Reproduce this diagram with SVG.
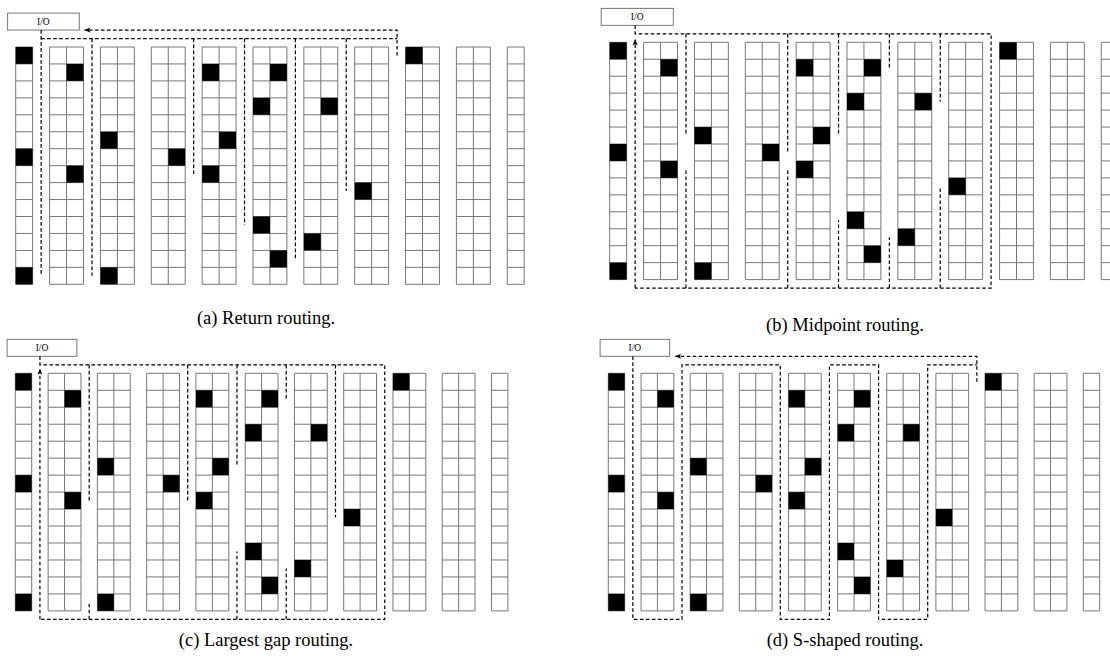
<svg xmlns="http://www.w3.org/2000/svg" xmlns:xlink="http://www.w3.org/1999/xlink" width="1110" height="664" viewBox="0 0 1110 664">
<style>
.gl{fill:none;stroke:#777;stroke-width:1;vector-effect:non-scaling-stroke}
.pk{fill:#000}
.rt{fill:none;stroke:#000;stroke-width:1.2;stroke-dasharray:3.6 2.4}
.io{fill:#fff;stroke:#777;stroke-width:1}
.iot{font-family:"Liberation Serif",serif;font-size:9.5px;fill:#000;text-anchor:middle}
.cap{font-family:"Liberation Serif",serif;font-size:18.5px;fill:#000;text-anchor:middle}
</style>
<defs>
<marker id="arr" markerUnits="userSpaceOnUse" markerWidth="7" markerHeight="6" refX="6" refY="3" orient="auto" viewBox="0 0 7 6"><path d="M0 0.4L6 3L0 5.6L1.6 3Z" fill="#000"/></marker>
<g id="rackS"><rect class="gl" x="0" y="0" width="1" height="14"/><path class="gl" d="M0 1H1M0 2H1M0 3H1M0 4H1M0 5H1M0 6H1M0 7H1M0 8H1M0 9H1M0 10H1M0 11H1M0 12H1M0 13H1"/></g>
<g id="rackD"><rect class="gl" x="0" y="0" width="2" height="14"/><path class="gl" d="M1 0V14M0 1H2M0 2H2M0 3H2M0 4H2M0 5H2M0 6H2M0 7H2M0 8H2M0 9H2M0 10H2M0 11H2M0 12H2M0 13H2"/></g>
<g id="grid">
<use xlink:href="#rackS" x="0"/>
<use xlink:href="#rackD" x="2"/>
<use xlink:href="#rackD" x="5"/>
<use xlink:href="#rackD" x="8"/>
<use xlink:href="#rackD" x="11"/>
<use xlink:href="#rackD" x="14"/>
<use xlink:href="#rackD" x="17"/>
<use xlink:href="#rackD" x="20"/>
<use xlink:href="#rackD" x="23"/>
<use xlink:href="#rackD" x="26"/>
<use xlink:href="#rackS" x="29"/>
</g>
<g id="picks" class="pk">
<rect x="0" y="0" width="1" height="1"/><rect x="0" y="6" width="1" height="1"/><rect x="0" y="13" width="1" height="1"/>
<rect x="3" y="1" width="1" height="1"/><rect x="3" y="7" width="1" height="1"/>
<rect x="5" y="5" width="1" height="1"/><rect x="5" y="13" width="1" height="1"/>
<rect x="9" y="6" width="1" height="1"/>
<rect x="11" y="1" width="1" height="1"/><rect x="11" y="7" width="1" height="1"/>
<rect x="12" y="5" width="1" height="1"/>
<rect x="14" y="3" width="1" height="1"/><rect x="14" y="10" width="1" height="1"/>
<rect x="15" y="1" width="1" height="1"/><rect x="15" y="12" width="1" height="1"/>
<rect x="17" y="11" width="1" height="1"/>
<rect x="18" y="3" width="1" height="1"/>
<rect x="20" y="8" width="1" height="1"/>
<rect x="23" y="0" width="1" height="1"/>
</g>
</defs>
<rect width="1110" height="664" fill="#fff"/>

<!-- (a) Return routing -->
<g id="panel-a">
<g id="a-warehouse" transform="translate(15.7 47) scale(16.95 16.95)"><use xlink:href="#grid"/><use xlink:href="#picks"/></g>
<g id="a-io"><rect class="io" x="7.6" y="13.1" width="71.7" height="16.95"/><text class="iot" x="43.4" y="24.9">I/O</text></g>
<g id="a-route" class="rt">
<path d="M41.13 30.05V275.8"/>
<path d="M41.13 38.53H397.08"/>
<path d="M91.98 38.53V275.8"/>
<path d="M193.68 38.53V174.1"/>
<path d="M244.53 38.53V225"/>
<path d="M295.38 38.53V258.9"/>
<path d="M346.23 38.53V191.1"/>
<path d="M397.08 55.48V30.05H84.5" marker-end="url(#arr)"/>
</g>
<text class="cap" x="266" y="324">(a) Return routing.</text>
</g>

<!-- (b) Midpoint routing -->
<g id="panel-b">
<g id="b-warehouse" transform="translate(609.7 42.3) scale(16.95 16.95)"><use xlink:href="#grid"/><use xlink:href="#picks"/></g>
<g id="b-io"><rect class="io" x="601.2" y="8.4" width="72.1" height="16.95"/><text class="iot" x="637.2" y="20.2">I/O</text></g>
<g id="b-route" class="rt">
<path d="M635.13 25.35V33.83H991.08V288.08H635.13"/>
<path d="M635.13 288.08V39.5" marker-end="url(#arr)"/>
<path d="M685.98 33.83V135.5"/>
<path d="M787.68 33.83V152.5"/>
<path d="M838.53 33.83V135.5"/>
<path d="M889.38 33.83V67.7"/>
<path d="M940.23 33.83V101.6"/>
<path d="M685.98 288.08V169.4"/>
<path d="M787.68 288.08V169.4"/>
<path d="M838.53 288.08V220.3"/>
<path d="M889.38 288.08V237.2"/>
<path d="M940.23 288.08V186.4"/>
</g>
<text class="cap" x="845" y="331">(b) Midpoint routing.</text>
</g>

<!-- (c) Largest gap routing -->
<g id="panel-c">
<g id="c-warehouse" transform="translate(15.3 373.3) scale(16.42 16.97)"><use xlink:href="#grid"/><use xlink:href="#picks"/></g>
<g id="c-io"><rect class="io" x="7.1" y="339.36" width="69.8" height="16.97"/><text class="iot" x="42" y="351.2">I/O</text></g>
<g id="c-route" class="rt">
<path d="M39.93 356.33V364.82H384.75V619.37H39.93"/>
<path d="M39.93 619.37V368.8" marker-end="url(#arr)"/>
<path d="M89.19 364.82V500.58"/>
<path d="M187.71 364.82V500.58"/>
<path d="M236.97 364.82V466.64"/>
<path d="M286.23 364.82V398.76"/>
<path d="M335.49 364.82V517.55"/>
<path d="M89.19 619.37V602.4"/>
<path d="M236.97 619.37V551.49"/>
<path d="M286.23 619.37V568.46"/>
</g>
<text class="cap" x="266" y="646">(c) Largest gap routing.</text>
</g>

<!-- (d) S-shaped routing -->
<g id="panel-d">
<g id="d-warehouse" transform="translate(608.3 373.3) scale(16.38 16.97)"><use xlink:href="#grid"/><use xlink:href="#picks"/></g>
<g id="d-io"><rect class="io" x="600.1" y="339.36" width="69.6" height="16.97"/><text class="iot" x="634.9" y="351.2">I/O</text></g>
<g id="d-route" class="rt">
<path d="M632.87 356.33V619.37H682.01V364.82H780.29V619.37H829.43V364.82H878.57V619.37H927.71V364.82H976.85"/>
<path d="M976.85 381.79V356.33H675.2" marker-end="url(#arr)"/>
</g>
<text class="cap" x="845" y="646">(d) S-shaped routing.</text>
</g>
</svg>
